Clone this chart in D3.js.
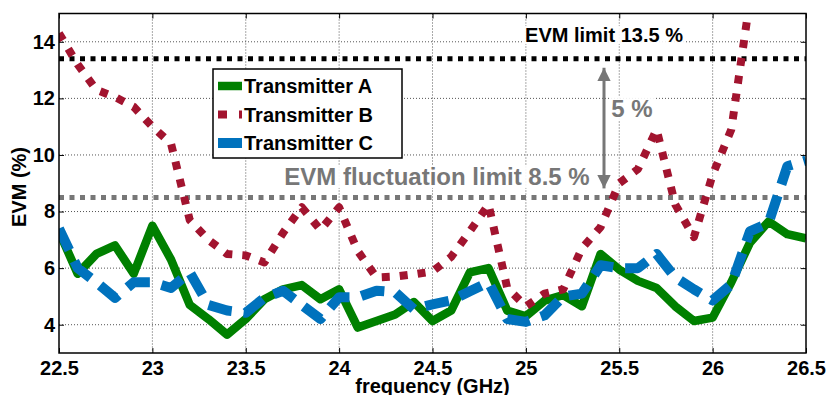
<!DOCTYPE html>
<html lang="en">
<head>
<meta charset="utf-8">
<title>EVM vs frequency</title>
<style>
  body { margin: 0; background: #fff; }
  text { font-family: "Liberation Sans", Arial, Helvetica, sans-serif; font-weight: bold; }
</style>
</head>
<body>
<div id="chart"></div>
<script src="https://cdn.jsdelivr.net/npm/d3@7/dist/d3.min.js"></script>
<script>
    var width = 827, height = 395;
    var margin = {left: 59, right: 21, top: 13.5, bottom: 42};

    // data, one point every 0.1 GHz
    var freqA = d3.range(41).map(function(i){ return 22.5 + i / 10; });
    var evmA = [7.3, 5.8, 6.5, 6.8, 5.8, 7.5, 6.3, 4.7, 4.2, 3.65,
                4.2, 4.9, 5.25, 5.4, 4.9, 5.25, 3.9, 4.13, 4.36, 4.8,
                4.13, 4.5, 5.85, 6.0, 4.5, 4.3, 4.85, 5.05, 4.65, 6.5,
                5.95, 5.55, 5.3, 4.65, 4.13, 4.25, 5.5, 6.9, 7.65, 7.2, 7.05];
    var evmB = [14.3, 13.2, 12.3, 12.05, 11.7, 11.0, 10.4, 7.7, 7.0, 6.5,
                6.45, 6.2, 7.25, 8.15, 7.35, 8.15, 6.6, 5.67, 5.7, 5.78,
                5.88, 6.4, 7.3, 8.25, 5.3, 4.65, 5.1, 5.25, 6.7, 7.45,
                9.0, 9.5, 10.9, 8.25, 7.1, 9.3, 10.9, 15.5];
    var evmC = [7.4, 6.0, 5.5, 4.95, 5.5, 5.5, 5.3, 5.85, 4.7, 4.5,
                4.42, 4.95, 5.2, 4.7, 4.2, 4.97, 4.97, 5.2, 5.15, 4.55,
                4.72, 4.86, 5.18, 5.5, 4.2, 4.1, 4.33, 5.0, 5.1, 6.1,
                6.0, 6.0, 6.5, 5.67, 5.25, 4.86, 5.42, 7.3, 7.6, 9.6, 9.8];
    var seriesNames = ["Transmitter A", "Transmitter B", "Transmitter C"];
    var xTicks = [22.5, 23, 23.5, 24, 24.5, 25, 25.5, 26, 26.5];
    var yTicks = [4, 6, 8, 10, 12, 14];
    var evmLimit = 13.4, fluctLimit = 8.5;

    var color = ["#008000", "#a2142f", "#0072bd"];

    var svg = d3.select("#chart").append("svg")
        .attr("width", width).attr("height", height);

    var x = d3.scaleLinear().domain([22.5, 26.5]).range([margin.left, width - margin.right]);
    var y = d3.scaleLinear().domain([3, 15]).range([height - margin.bottom, margin.top]);

    var pw = width - margin.left - margin.right, ph = height - margin.top - margin.bottom;

    svg.append("clipPath").attr("id", "plotclip")
        .append("rect").attr("x", margin.left).attr("y", margin.top)
        .attr("width", pw).attr("height", ph);

    // grid
    svg.append("g").selectAll("line").data(xTicks.slice(1, -1)).enter().append("line")
        .attr("x1", d => x(d)).attr("x2", d => x(d))
        .attr("y1", margin.top).attr("y2", height - margin.bottom)
        .attr("stroke", "#555").attr("stroke-dasharray", "1,2");
    svg.append("g").selectAll("line").data(yTicks).enter().append("line")
        .attr("x1", margin.left).attr("x2", width - margin.right)
        .attr("y1", d => y(d)).attr("y2", d => y(d))
        .attr("stroke", "#555").attr("stroke-dasharray", "1,2");

    // axes, ticks inside, MATLAB style
    svg.append("g").attr("transform", "translate(0," + (height - margin.bottom) + ")")
        .call(d3.axisBottom(x).tickValues(xTicks).tickSizeInner(-5).tickSizeOuter(0).tickPadding(8).tickFormat(d3.format("")))
        .call(g => g.select(".domain").remove())
        .selectAll("text").attr("font-size", 20).attr("fill", "#000");
    svg.append("g").attr("transform", "translate(" + margin.left + ",0)")
        .call(d3.axisLeft(y).tickValues(yTicks).tickSizeInner(-5).tickSizeOuter(0).tickPadding(4))
        .call(g => g.select(".domain").remove())
        .selectAll("text").attr("font-size", 20).attr("fill", "#000");
    svg.append("g").attr("transform", "translate(0," + margin.top + ")")
        .call(d3.axisTop(x).tickValues(xTicks).tickSizeInner(-5).tickSizeOuter(0).tickFormat(""))
        .call(g => g.select(".domain").remove());
    svg.append("g").attr("transform", "translate(" + (width - margin.right) + ",0)")
        .call(d3.axisRight(y).tickValues(yTicks).tickSizeInner(-5).tickSizeOuter(0).tickFormat(""))
        .call(g => g.select(".domain").remove());

    var plot = svg.append("g").attr("clip-path", "url(#plotclip)");

    // limit lines
    plot.append("line")
        .attr("x1", margin.left).attr("x2", width - margin.right)
        .attr("y1", y(evmLimit)).attr("y2", y(evmLimit))
        .attr("stroke", "#000").attr("stroke-width", 5).attr("stroke-dasharray", "5,5.5");
    plot.append("line")
        .attr("x1", margin.left).attr("x2", width - margin.right)
        .attr("y1", y(fluctLimit)).attr("y2", y(fluctLimit))
        .attr("stroke", "#777").attr("stroke-width", 5).attr("stroke-dasharray", "5,5.5");

    var line = d3.line().x(d => x(d[0])).y(d => y(d[1]));
    var styles = [
        {w: 8.5, dash: null},
        {w: 8, dash: "8,10"},
        {w: 10, dash: "24,12"}
    ];
    [evmA, evmB, evmC].forEach(function(vals, i){
        plot.append("path")
            .datum(vals.map(function(v, j){ return [freqA[j], v]; }))
            .attr("d", line)
            .attr("fill", "none")
            .attr("stroke", color[i])
            .attr("stroke-width", styles[i].w)
            .attr("stroke-linejoin", "round")
            .attr("stroke-dasharray", styles[i].dash);
    });

    // frame
    svg.append("rect").attr("x", margin.left).attr("y", margin.top)
        .attr("width", pw).attr("height", ph)
        .attr("fill", "none").attr("stroke", "#000").attr("stroke-width", 1.5);

    // annotations with white backing
    function label(txt, cx, by, size, fill){
        var t = svg.append("text").attr("x", cx).attr("y", by)
            .attr("text-anchor", "middle").attr("font-size", size).attr("fill", fill).text(txt);
        var b = t.node().getBBox();
        svg.insert("rect", function(){ return t.node(); })
            .attr("x", b.x - 2).attr("y", b.y + 2).attr("width", b.width + 4).attr("height", b.height - 4)
            .attr("fill", "#fff").attr("fill-opacity", 0.9);
        return t;
    }
    label("EVM limit 13.5 %", 604, 42, 20, "#000");
    label("EVM fluctuation limit 8.5 %", 437, 185, 24, "#777");
    label("5 %", 632, 117, 24, "#777");

    // double arrow for the 5 % gap
    var ax = 604;
    var defs = svg.append("defs");
    defs.append("marker").attr("id", "ah").attr("viewBox", "0 0 10 10")
        .attr("refX", 10).attr("refY", 5).attr("markerWidth", 4.5).attr("markerHeight", 4.5)
        .attr("markerUnits", "strokeWidth").attr("orient", "auto-start-reverse")
        .append("path").attr("d", "M0,0L10,5L0,10Z").attr("fill", "#777");
    svg.append("line")
        .attr("x1", ax).attr("x2", ax)
        .attr("y1", y(evmLimit) + 9).attr("y2", y(fluctLimit) - 9)
        .attr("stroke", "#777").attr("stroke-width", 3)
        .attr("marker-start", "url(#ah)").attr("marker-end", "url(#ah)");

    // legend
    var lg = svg.append("g").attr("transform", "translate(213,69)");
    lg.append("rect").attr("width", 189).attr("height", 89)
        .attr("fill", "#fff").attr("stroke", "#000").attr("stroke-width", 1.5);
    seriesNames.forEach(function(name, i){
        var yy = 17 + i * 28.5;
        lg.append("line").attr("x1", 5).attr("x2", 29).attr("y1", yy).attr("y2", yy)
            .attr("stroke", color[i]).attr("stroke-width", styles[i].w)
            .attr("stroke-dasharray", i == 1 ? "9,12" : null);
        lg.append("text").attr("x", 31).attr("y", yy + 7)
            .attr("font-size", 20).attr("fill", "#000").text(name);
    });

    // axis titles
    svg.append("text").attr("transform", "translate(26,187) rotate(-90)")
        .attr("text-anchor", "middle").attr("font-size", 20).text("EVM (%)");
    svg.append("text").attr("x", x(24.5)).attr("y", 393)
        .attr("text-anchor", "middle").attr("font-size", 20).text("frequency (GHz)");
</script>
</body>
</html>
